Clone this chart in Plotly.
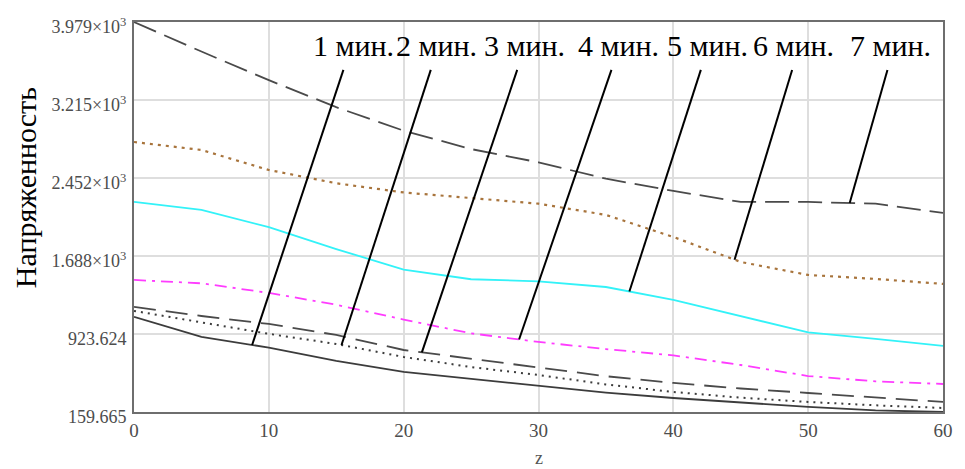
import numpy as np
import plotly.graph_objects as go

# ---------------- data ----------------
z = [0, 5, 10, 15, 20, 25, 30, 35, 40, 45, 50, 55, 60]

e_1min = [1091, 895, 790, 660, 552, 483, 415, 350, 297, 250, 209, 175, 160]
e_2min = [1150, 1040, 925, 826, 699, 600, 522, 430, 356, 300, 258, 225, 199]
e_3min = [1189, 1100, 1022, 914, 767, 680, 591, 510, 444, 390, 346, 300, 258]
e_4min = [1453, 1420, 1326, 1210, 1065, 930, 846, 776, 714, 620, 512, 460, 434]
e_5min = [2217, 2139, 1970, 1755, 1555, 1460, 1440, 1384, 1257, 1100, 940, 875, 807]
e_6min = [2804, 2726, 2530, 2400, 2310, 2252, 2200, 2090, 1874, 1629, 1502, 1463, 1414]
e_7min = [3979, 3690, 3410, 3145, 2915, 2735, 2605, 2445, 2325, 2217, 2217, 2200, 2109]

labels = ["1 мин.", "2 мин.", "3 мин.", "4 мин.", "5 мин.", "6 мин.", "7 мин."]

y_tickvals = [159.665, 923.624, 1687.583, 2451.542, 3215.501, 3979.46]
y_ticktext = ["159.665", "923.624", "1.688×10<sup>3</sup>", "2.452×10<sup>3</sup>",
              "3.215×10<sup>3</sup>", "3.979×10<sup>3</sup>"]
x_tickvals = [0, 10, 20, 30, 40, 50, 60]

# ---------------- label / leader placement (layout constants) ----------------
label_x = [16.27, 22.42, 28.93, 35.93, 42.52, 48.92, 56.1]
label_y = 3745
leader_top_x = [15.53, 22.01, 28.42, 35.41, 42.04, 48.81, 55.88]
leader_top_y = 3510
leader_bottom_x = [8.76, 15.39, 21.35, 28.56, 36.74, 44.54, 53.08]

series = [e_1min, e_2min, e_3min, e_4min, e_5min, e_6min, e_7min]
styles = [
    dict(color="#3c3c3c", width=1.8, dash="solid"),
    dict(color="#3c3c3c", width=2.0, dash="2px,5px"),
    dict(color="#4a4a4a", width=1.8, dash="22px,10px"),
    dict(color="#ff3cff", width=1.8, dash="12px,6px,3px,6px"),
    dict(color="#33f2f8", width=1.8, dash="solid"),
    dict(color="#a8743c", width=2.2, dash="3px,5px"),
    dict(color="#4a4a4a", width=1.8, dash="24px,9px"),
]

fig = go.Figure()
for vals, st in zip(series, styles):
    fig.add_trace(go.Scatter(x=z, y=vals, mode="lines", line=st,
                             hoverinfo="skip", showlegend=False))

# leader lines from labels to curves
for i, vals in enumerate(series):
    yb = float(np.interp(leader_bottom_x[i], z, vals))
    fig.add_trace(go.Scatter(x=[leader_bottom_x[i], leader_top_x[i]],
                             y=[yb, leader_top_y], mode="lines",
                             line=dict(color="black", width=2),
                             hoverinfo="skip", showlegend=False))

annotations = []
for i, t in enumerate(labels):
    annotations.append(dict(x=label_x[i], y=label_y, xref="x", yref="y",
                            text=t, showarrow=False, xanchor="center", yanchor="middle",
                            font=dict(family="Liberation Serif", size=30, color="black")))

annotations.append(dict(x=0, y=0.574, xref="paper", yref="paper", xshift=-109,
                        text="Напряженность", textangle=-90, showarrow=False,
                        xanchor="center", yanchor="middle",
                        font=dict(family="Liberation Serif", size=30, color="black")))
annotations.append(dict(x=0.5, y=0, xref="paper", yref="paper", yshift=-46,
                        text="z", showarrow=False, xanchor="center", yanchor="middle",
                        font=dict(family="Liberation Serif", size=18, color="#555555")))

fig.update_layout(
    width=965, height=469,
    margin=dict(l=134, r=16, t=22, b=57),
    paper_bgcolor="white", plot_bgcolor="white",
    showlegend=False, hovermode=False,
    annotations=annotations,
    xaxis=dict(range=[0, 60], tickvals=x_tickvals, ticks="",
               showgrid=True, gridcolor="#dedede", gridwidth=1.5, zeroline=False,
               showline=True, mirror=True, linecolor="#6e6e6e", linewidth=2,
               tickfont=dict(family="Liberation Serif", size=19, color="#4d4d4d"),
               ticklabelstandoff=0),
    yaxis=dict(range=[159.665, 3979.46], tickvals=y_tickvals, ticktext=y_ticktext,
               ticks="", showgrid=True, gridcolor="#dedede", gridwidth=1.5, zeroline=False,
               showline=True, mirror=True, linecolor="#6e6e6e", linewidth=2,
               tickfont=dict(family="Liberation Serif", size=18, color="#4d4d4d"),
               ticklabelstandoff=2, ticklabelshift=5),
)

fig.write_html("out.html")
